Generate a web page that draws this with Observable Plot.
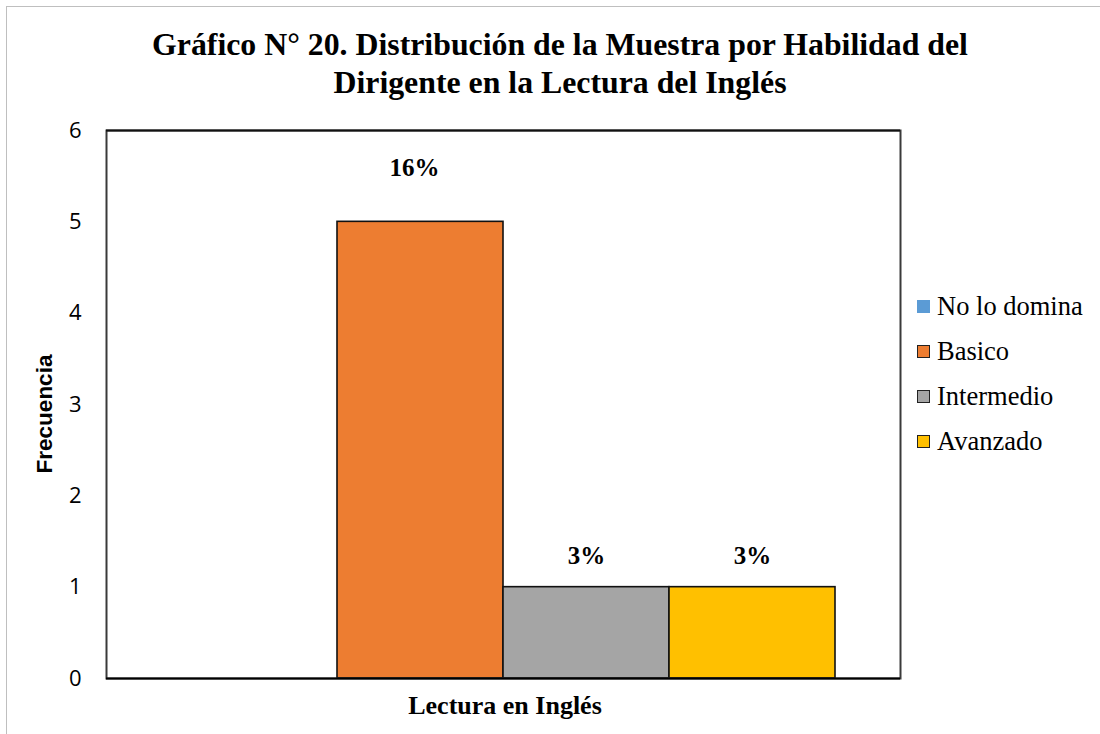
<!DOCTYPE html>
<html>
<head>
<meta charset="utf-8">
<script src="https://cdn.jsdelivr.net/npm/d3@7"></script>
<script src="https://cdn.jsdelivr.net/npm/@observablehq/plot@0.6"></script>
<style>
  html, body { margin: 0; padding: 0; background: #fff; }
  #wrap { position: relative; width: 1100px; height: 734px; overflow: hidden; background: #fff; }
  #border { position: absolute; left: 6px; top: 6px; width: 1200px; height: 900px; border: 1.5px solid #bfbfbf; box-sizing: border-box; }
  #title { position: absolute; left: 60px; width: 1000px; top: 26px; text-align: center;
    font-family: "Liberation Serif", "Times New Roman", serif; font-weight: bold; font-size: 31.8px; line-height: 38px; color: #000; }
  #ylabel { position: absolute; left: 45px; top: 414px; transform: translate(-50%, -50%) rotate(-90deg);
    font-family: "Liberation Sans", Arial, sans-serif; font-weight: bold; font-size: 22.5px; color: #000; white-space: nowrap; }
  #xlabel { position: absolute; left: 505px; top: 706px; transform: translate(-50%, -50%);
    font-family: "Liberation Serif", "Times New Roman", serif; font-weight: bold; font-size: 26px; color: #000; white-space: nowrap; }
  #legend { position: absolute; left: 917px; top: 284px; font-family: "Liberation Serif", "Times New Roman", serif; font-size: 26.5px; color: #000; }
  .li { display: flex; align-items: center; height: 45px; white-space: nowrap; }
  .sw { width: 13px; height: 13px; box-sizing: border-box; margin-right: 7px; }
  #chart { position: absolute; left: 0; top: 0; }
</style>
</head>
<body>
<div id="wrap">
  <div id="border"></div>
  <div id="chart"></div>
  <div id="title"></div>
  <div id="ylabel"></div>
  <div id="xlabel"></div>
  <div id="legend"></div>
</div>
<script>
// ---- data ----
const titleLines = ["Gráfico N° 20. Distribución de la Muestra por Habilidad del", "Dirigente en la Lectura del Inglés"];
const groupLabel = "Lectura en Inglés";
const yLabel = "Frecuencia";
const categories = ["No lo domina", "Basico", "Intermedio", "Avanzado"];
const frequencies = [0, 5, 1, 1];
const percentLabels = ["", "16%", "3%", "3%"];
const yTicks = [0, 1, 2, 3, 4, 5, 6];

// ---- styles ----
const colors = ["#5B9BD5", "#ED7D31", "#A5A5A5", "#FFC000"];
const data = categories.map((c, i) => ({category: c, value: frequencies[i], label: percentLabels[i]}));

document.getElementById("title").innerHTML = titleLines.join("<br>");
document.getElementById("ylabel").textContent = yLabel;
document.getElementById("xlabel").textContent = groupLabel;

const legend = document.getElementById("legend");
categories.forEach((c, i) => {
  const row = document.createElement("div");
  row.className = "li";
  const sw = document.createElement("div");
  sw.className = "sw";
  sw.style.background = colors[i];
  if (i > 0) sw.style.border = "1.5px solid #222";
  const t = document.createElement("span");
  t.textContent = c;
  row.appendChild(sw); row.appendChild(t);
  legend.appendChild(row);
});

const big = data.filter(d => d.value >= 5 && d.label);
const small = data.filter(d => d.value < 5 && d.label);

const serif = "Liberation Serif, Times New Roman, serif";
const chart = Plot.plot({
  width: 1100,
  height: 734,
  marginTop: 130,
  marginBottom: 56,
  marginLeft: 106,
  marginRight: 200,
  style: {background: "transparent", overflow: "visible"},
  x: {type: "band", domain: categories, range: [169, 836], padding: 0, axis: null},
  y: {domain: [0, 6], axis: null},
  color: {domain: categories, range: colors},
  marks: [
    Plot.barY(data, {x: "category", y: "value", fill: "category", stroke: d => d.value > 0 ? "#111" : "none", strokeWidth: 1.6}),
    Plot.frame({stroke: "#3a3a3a", strokeWidth: 2}),
    Plot.ruleY([0], {stroke: "#000", strokeWidth: 2}),
    Plot.ruleY([6], {stroke: "#111", strokeWidth: 2}),
    Plot.text(yTicks, {y: d => d, text: d => String(d), frameAnchor: "left", dx: -25, textAnchor: "end",
      lineAnchor: "middle", fontSize: 22, fontFamily: "Open Sans, sans-serif", fill: "#000"}),
    Plot.text(big, {x: "category", y: "value", text: "label", dy: -54, dx: -6, lineAnchor: "middle",
      fontFamily: serif, fontWeight: "bold", fontSize: 25, fill: "#000"}),
    Plot.text(small, {x: "category", y: "value", text: "label", dy: -31, lineAnchor: "middle",
      fontFamily: serif, fontWeight: "bold", fontSize: 25, fill: "#000"})
  ]
});
document.getElementById("chart").appendChild(chart);
</script>
</body>
</html>
